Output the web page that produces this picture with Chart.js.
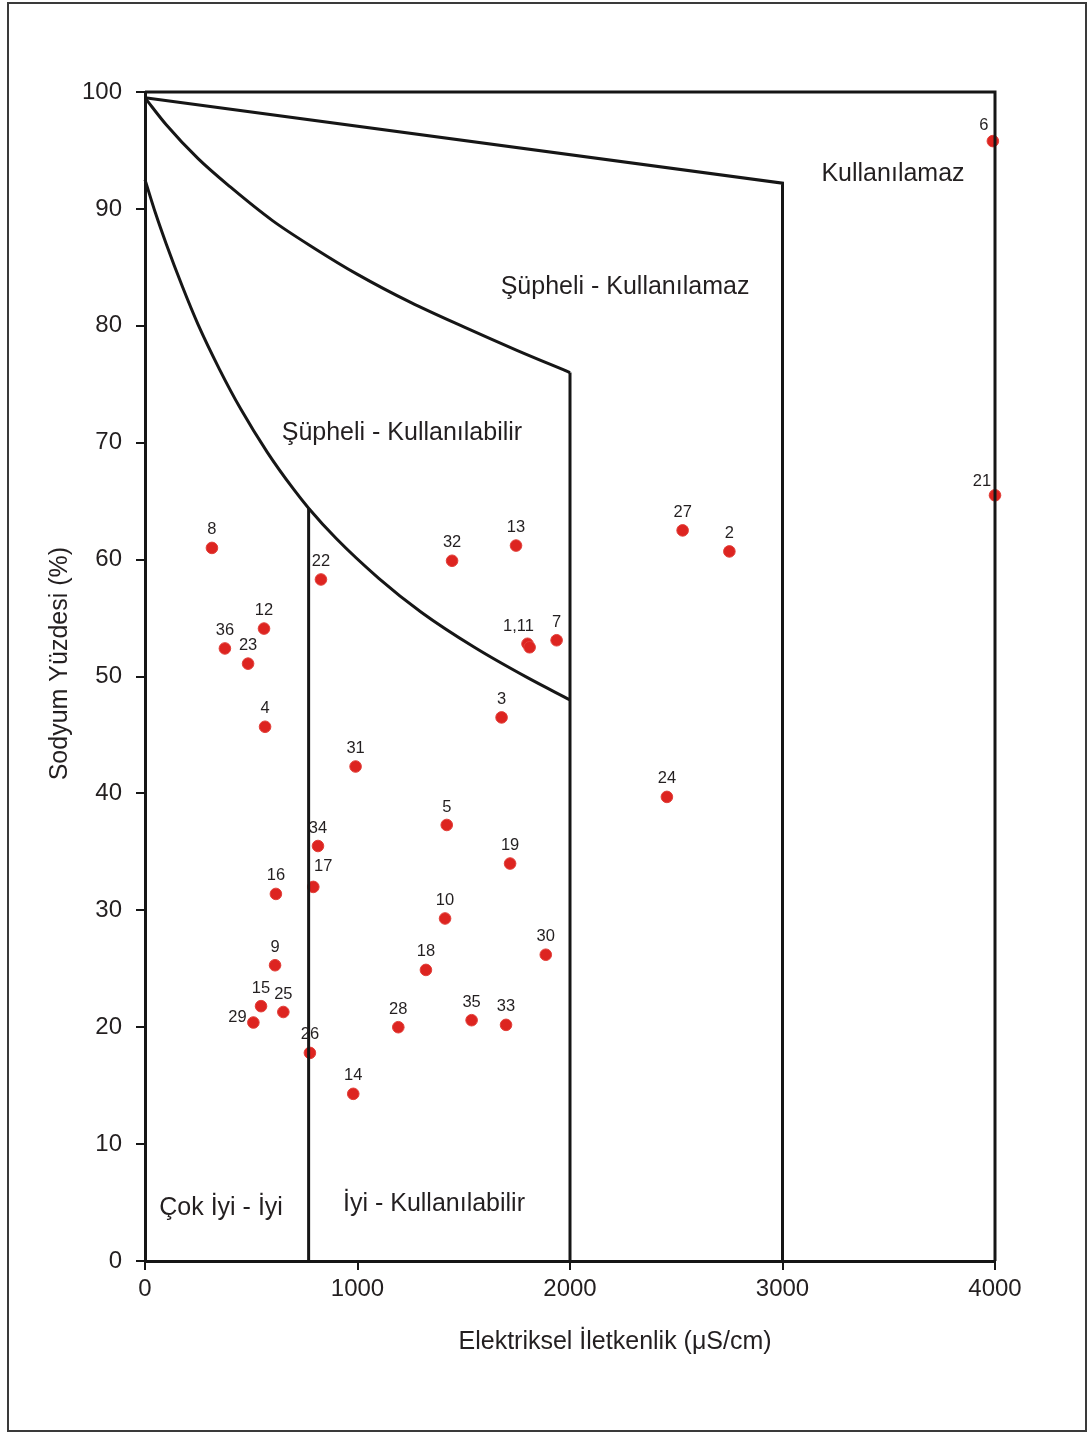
<!DOCTYPE html>
<html>
<head>
<meta charset="utf-8">
<script src="https://cdn.jsdelivr.net/npm/chart.js@4.4.1/dist/chart.umd.min.js"></script>
<style>
  html, body { margin: 0; padding: 0; background: #fff; }
  canvas { display: block; }
</style>
</head>
<body>
<canvas id="c" width="1091" height="1434"></canvas>
<script>
// ---- Data ----
const sampleNames = ['1','2','3','4','5','6','7','8','9','10','11','12','13','14','15','16','17','18','19',
                     '21','22','23','24','25','26','27','28','29','30','31','32','33','34','35','36'];
const ecValues = [1800, 2750, 1678, 565, 1420, 3990, 1937, 315, 612, 1412, 1810, 560, 1746, 980, 546, 616, 792, 1322, 1718,
                  4000, 828, 485, 2456, 651, 776, 2530, 1192, 510, 1886, 991, 1445, 1699, 814, 1537, 376];
const naPercent = [52.8, 60.7, 46.5, 45.7, 37.3, 95.8, 53.1, 61.0, 25.3, 29.3, 52.5, 54.1, 61.2, 14.3, 21.8, 31.4, 32.0, 24.9, 34.0,
                   65.5, 58.3, 51.1, 39.7, 21.3, 17.8, 62.5, 20.0, 20.4, 26.2, 42.3, 59.9, 20.2, 35.5, 20.6, 52.4];

// Wilcox diagram boundaries (EC, %Na)
const frameX = [0, 4000, 4000];
const frameY = [100, 100, 0];
const lineAX = [0, 3000, 3000];
const lineAY = [99.5, 92.2, 0];
const curveBX = [0, 100, 250, 400, 600, 800, 1000, 1250, 1500, 1750, 2000];
const curveBY = [99.5, 97.2, 94.3, 91.9, 89.0, 86.6, 84.4, 82.0, 79.9, 77.9, 76.0];
const vertBX = [2000, 2000];
const vertBY = [76.0, 0];
const curveCX = [0, 50, 100, 175, 250, 350, 450, 575, 700, 770, 900, 1100, 1300, 1550, 1800, 2000];
const curveCY = [92.5, 89.6, 87.0, 83.4, 80.1, 76.3, 72.9, 69.2, 66.0, 64.4, 61.8, 58.4, 55.5, 52.5, 49.9, 48.0];
const vertCX = [770, 770];
const vertCY = [64.4, 0];

const xTicks = [0, 1000, 2000, 3000, 4000];
const yTicks = [0, 10, 20, 30, 40, 50, 60, 70, 80, 90, 100];

const regionNames = ['Kullanılamaz', 'Şüpheli - Kullanılamaz', 'Şüpheli - Kullanılabilir', 'Çok İyi - İyi', 'İyi - Kullanılabilir'];
const regionX = [3520, 2259, 1209, 358, 1360];
const regionY = [93.0, 83.3, 70.8, 4.5, 4.9];

const xTitle = 'Elektriksel İletkenlik (μS/cm)';
const yTitle = 'Sodyum Yüzdesi (%)';

// ---- Build ----
const pts = (xs, ys) => xs.map((x, i) => ({ x: x, y: ys[i] }));
const FONT = "'Liberation Sans', Arial, Helvetica, sans-serif";
const INK = '#231f20';
const LINE = '#161616';

const lineDs = (xs, ys, curved) => ({
  type: 'scatter', data: pts(xs, ys), showLine: true, pointRadius: 0, pointHoverRadius: 0,
  borderColor: LINE, borderWidth: 3, fill: false, clip: false,
  tension: curved ? 0.4 : 0, cubicInterpolationMode: curved ? 'monotone' : 'default',
  borderJoinStyle: 'miter', borderCapStyle: 'butt'
});

// label display tweaks (styling only)
const labelText = { '1': '1,11', '11': null };
const labelOffset = { '17': [10, -20], '29': [-16, -5], '6': [-9, -16], '21': [-13, -14], '1': [-9, -17] };

const decorPlugin = {
  id: 'decor',
  beforeDraw(chart) {
    const ctx = chart.ctx;
    ctx.save();
    ctx.fillStyle = '#fff';
    ctx.fillRect(0, 0, chart.width, chart.height);
    ctx.restore();
  },
  afterDatasetsDraw(chart) {
    const ctx = chart.ctx;
    const xs = chart.scales.x, ys = chart.scales.y;
    ctx.save();
    ctx.fillStyle = INK;
    ctx.textAlign = 'center';
    ctx.textBaseline = 'middle';
    // point labels
    ctx.font = '16.5px ' + FONT;
    sampleNames.forEach((n, i) => {
      const t = (n in labelText) ? labelText[n] : n;
      if (!t) return;
      const off = labelOffset[n] || [0, -18];
      ctx.fillText(t, xs.getPixelForValue(ecValues[i]) + off[0], ys.getPixelForValue(naPercent[i]) + off[1]);
    });
    // region labels
    ctx.font = '25px ' + FONT;
    regionNames.forEach((t, i) => {
      ctx.fillText(t, xs.getPixelForValue(regionX[i]), ys.getPixelForValue(regionY[i]));
    });
    // axis titles
    const ca = chart.chartArea;
    ctx.font = '25px ' + FONT;
    ctx.fillText(xTitle, ca.left + (ca.right - ca.left) * 0.553, 1342);
    ctx.save();
    ctx.translate(60, ca.top + (ca.bottom - ca.top) * 0.489);
    ctx.rotate(-Math.PI / 2);
    ctx.fillText(yTitle, 0, 0);
    ctx.restore();
    // outer frame
    ctx.strokeStyle = '#3a3a3a';
    ctx.lineWidth = 2;
    ctx.strokeRect(8, 3, 1078, 1428);
    ctx.restore();
  }
};

new Chart(document.getElementById('c'), {
  type: 'scatter',
  data: {
    datasets: [
      lineDs(frameX, frameY, false),
      lineDs(lineAX, lineAY, false),
      lineDs(curveBX, curveBY, true),
      lineDs(vertBX, vertBY, false),
      lineDs(curveCX, curveCY, true),
      lineDs(vertCX, vertCY, false),
      {
        type: 'scatter', data: pts(ecValues, naPercent), pointRadius: 5.8, pointHoverRadius: 5.8,
        backgroundColor: '#dd2420', borderColor: '#e2403a', borderWidth: 1, clip: false
      }
    ]
  },
  options: {
    responsive: false,
    animation: false,
    events: [],
    layout: { padding: { top: 92, right: 96, left: 0, bottom: 0 } },
    plugins: { legend: { display: false }, tooltip: { enabled: false } },
    scales: {
      x: {
        type: 'linear', min: 0, max: 4000,
        afterFit(s) { s.height = 173; },
        afterBuildTicks(s) { s.ticks = xTicks.map(v => ({ value: v })); },
        grid: { drawOnChartArea: false, drawTicks: true, tickLength: 9, color: LINE, lineWidth: 2 },
        border: { display: true, color: LINE, width: 3 },
        ticks: { font: { family: FONT, size: 24 }, color: INK, padding: 5, maxRotation: 0,
                 callback: v => String(v) }
      },
      y: {
        type: 'linear', min: 0, max: 100,
        afterFit(s) { s.width = 145; },
        afterBuildTicks(s) { s.ticks = yTicks.map(v => ({ value: v })); },
        grid: { drawOnChartArea: false, drawTicks: true, tickLength: 9, color: LINE, lineWidth: 2 },
        border: { display: true, color: LINE, width: 3 },
        ticks: { font: { family: FONT, size: 24 }, color: INK, padding: 14, callback: v => String(v) }
      }
    }
  },
  plugins: [decorPlugin]
});
</script>
</body>
</html>
